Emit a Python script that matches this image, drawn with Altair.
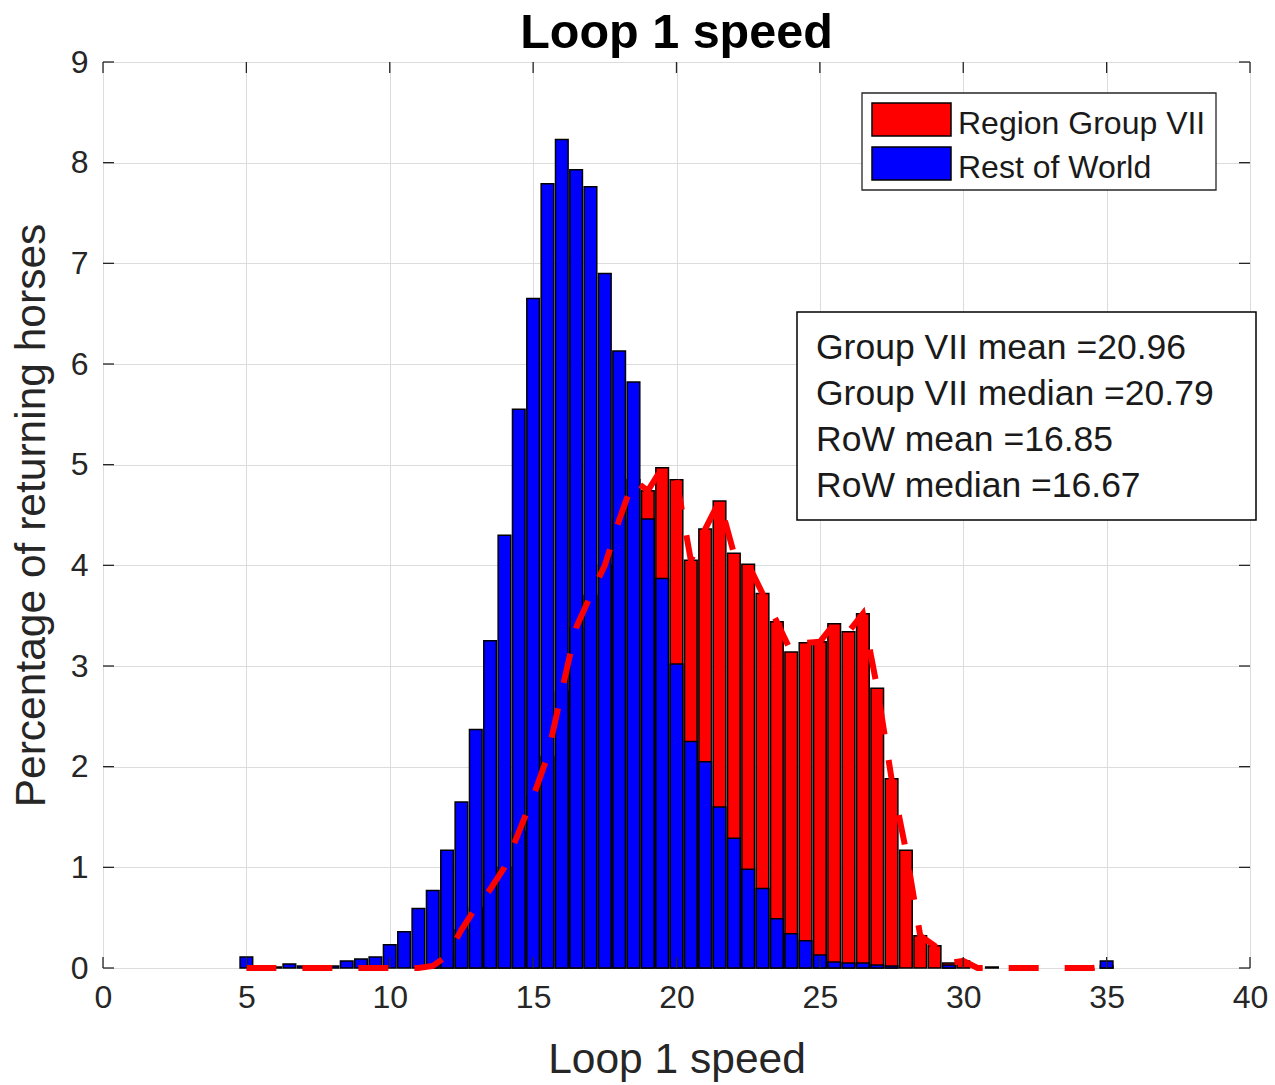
import altair as alt
import pandas as pd

# ---------------- data ----------------
bin_centers = [5.0, 5.5, 6.0, 6.5, 7.0, 7.5, 8.0, 8.5, 9.0, 9.5,
               10.0, 10.5, 11.0, 11.5, 12.0, 12.5, 13.0, 13.5, 14.0, 14.5,
               15.0, 15.5, 16.0, 16.5, 17.0, 17.5, 18.0, 18.5, 19.0, 19.5,
               20.0, 20.5, 21.0, 21.5, 22.0, 22.5, 23.0, 23.5, 24.0, 24.5,
               25.0, 25.5, 26.0, 26.5, 27.0, 27.5, 28.0, 28.5, 29.0, 29.5,
               30.0, 30.5, 31.0, 31.5, 32.0, 32.5, 33.0, 33.5, 34.0, 34.5,
               35.0]

rest_of_world = [0.11, 0.01, 0.01, 0.04, 0.02, 0.01, 0.02, 0.07, 0.09, 0.11,
                 0.23, 0.36, 0.59, 0.77, 1.17, 1.65, 2.37, 3.25, 4.30, 5.55,
                 6.65, 7.79, 8.23, 7.93, 7.76, 6.90, 6.13, 5.82, 4.46, 3.87,
                 3.02, 2.25, 2.05, 1.60, 1.29, 0.98, 0.79, 0.49, 0.34, 0.27,
                 0.13, 0.06, 0.05, 0.05, 0.03, 0.02, 0.0, 0.0, 0.0, 0.03,
                 0.0, 0.0, 0.01, 0.0, 0.0, 0.0, 0.0, 0.0, 0.0, 0.0,
                 0.07]

group_vii = [0.0, 0.0, 0.0, 0.0, 0.0, 0.0, 0.0, 0.0, 0.0, 0.0,
             0.0, 0.0, 0.0, 0.02, 0.12, 0.38, 0.60, 0.78, 1.00, 1.35,
             1.70, 2.10, 2.75, 3.38, 3.70, 4.00, 4.45, 4.85, 4.74, 4.97,
             4.85, 4.05, 4.36, 4.64, 4.12, 4.01, 3.72, 3.44, 3.14, 3.23,
             3.24, 3.42, 3.34, 3.52, 2.78, 1.88, 1.17, 0.32, 0.22, 0.05,
             0.07, 0.0, 0.0, 0.0, 0.0, 0.0, 0.0, 0.0, 0.0, 0.0,
             0.02]

series_names = ["Region Group VII", "Rest of World"]
series_colors = ["#ff0000", "#0000ff"]

stat_labels = ["Group VII mean", "Group VII median", "RoW mean", "RoW median"]
stat_values = [20.96, 20.79, 16.85, 16.67]

x_ticks = [0, 5, 10, 15, 20, 25, 30, 35, 40]
y_ticks = [0, 1, 2, 3, 4, 5, 6, 7, 8, 9]

title_text = "Loop 1 speed"
x_title = "Loop 1 speed"
y_title = "Percentage of returning horses"

# ---------------- layout constants ----------------
W, H = 1147, 906
FONT = "Liberation Sans"
HALF = 0.22  # half bar width in data units

df = pd.DataFrame({"c": bin_centers, "row": rest_of_world, "g7": group_vii})
df["x0"] = df["c"] - HALF
df["x1"] = df["c"] + HALF
red_df = df[df["g7"] > 0]
blue_df = df[df["row"] > 0]

xscale = alt.Scale(domain=[0, 40], nice=False, zero=False)
yscale = alt.Scale(domain=[0, 9], nice=False, zero=False)

x_axis = alt.Axis(values=x_ticks, format="d", grid=True, gridColor="#dcdcdc", gridWidth=1,
                  domain=False, ticks=False, tickSize=0, labelFontSize=32,
                  labelFont=FONT, labelColor="#262626", labelPadding=14,
                  title=x_title, titleFont=FONT, titleFontSize=42.5,
                  titleFontWeight="normal", titleColor="#262626", titlePadding=25,
                  labelFlush=False)
y_axis = alt.Axis(values=y_ticks, format="d", grid=True, gridColor="#dcdcdc", gridWidth=1,
                  domain=False, ticks=False, tickSize=0, labelFontSize=32,
                  labelFont=FONT, labelColor="#262626", labelPadding=15,
                  title=y_title, titleFont=FONT, titleFontSize=42.5,
                  titleFontWeight="normal", titleColor="#262626", titlePadding=17,
                  labelFlush=False)

red_bars = alt.Chart(red_df).mark_rect(
    fill=series_colors[0], stroke="black", strokeWidth=1.5
).encode(
    x=alt.X("x0:Q", scale=xscale, axis=x_axis),
    x2="x1:Q",
    y=alt.Y("g7:Q", scale=yscale, axis=y_axis),
    y2=alt.datum(0),
)

blue_bars = alt.Chart(blue_df).mark_rect(
    fill=series_colors[1], stroke="black", strokeWidth=1.5
).encode(
    x=alt.X("x0:Q", scale=xscale),
    x2="x1:Q",
    y=alt.Y("row:Q", scale=yscale),
    y2=alt.datum(0),
)

dash_line = alt.Chart(df).mark_line(
    color=series_colors[0], strokeWidth=6, strokeDash=[30, 26], strokeCap="butt"
).encode(
    x=alt.X("c:Q", scale=xscale),
    y=alt.Y("g7:Q", scale=yscale),
)

# inward tick marks on all four sides (MATLAB box style)
xt = pd.DataFrame({"t": x_ticks})
yt = pd.DataFrame({"t": y_ticks})
TICK = 11
tick_col = "#262626"
ticks_bottom = alt.Chart(xt).mark_rule(color=tick_col, strokeWidth=1.3).encode(
    x=alt.X("t:Q", scale=xscale), y=alt.value(H), y2=alt.value(H - TICK))
ticks_top = alt.Chart(xt).mark_rule(color=tick_col, strokeWidth=1.3).encode(
    x=alt.X("t:Q", scale=xscale), y=alt.value(0), y2=alt.value(TICK))
ticks_left = alt.Chart(yt).mark_rule(color=tick_col, strokeWidth=1.3).encode(
    y=alt.Y("t:Q", scale=yscale), x=alt.value(0), x2=alt.value(TICK))
ticks_right = alt.Chart(yt).mark_rule(color=tick_col, strokeWidth=1.3).encode(
    y=alt.Y("t:Q", scale=yscale), x=alt.value(W), x2=alt.value(W - TICK))

one = pd.DataFrame({"a": [0]})

# legend (box, swatches, labels)
LX0, LX1, LY0, LY1 = 759, 1113, 31, 128
legend_layers = [
    alt.Chart(one).mark_rect(fill="white", stroke="#262626", strokeWidth=1.3).encode(
        x=alt.value(LX0), x2=alt.value(LX1), y=alt.value(LY0), y2=alt.value(LY1))
]
for i, (name, col) in enumerate(zip(series_names, series_colors)):
    top = 41 + i * 44
    legend_layers.append(
        alt.Chart(one).mark_rect(fill=col, stroke="black", strokeWidth=1.5).encode(
            x=alt.value(769), x2=alt.value(848), y=alt.value(top), y2=alt.value(top + 33)))
    legend_layers.append(
        alt.Chart(pd.DataFrame({"label": [name]})).mark_text(
            align="left", baseline="middle", font=FONT, fontSize=32, color="#1a1a1a"
        ).encode(x=alt.value(855), y=alt.value(top + 21), text="label:N"))

# statistics text box
SX0, SX1, SY0, SY1 = 694, 1153, 250, 458
stats_df = pd.DataFrame({
    "line": [f"{lab} ={val:.2f}" for lab, val in zip(stat_labels, stat_values)],
})
stats_layers = [
    alt.Chart(one).mark_rect(fill="white", stroke="black", strokeWidth=1.5).encode(
        x=alt.value(SX0), x2=alt.value(SX1), y=alt.value(SY0), y2=alt.value(SY1))
]
for i, line in enumerate(stats_df["line"]):
    stats_layers.append(
        alt.Chart(pd.DataFrame({"line": [line]})).mark_text(
            align="left", baseline="middle", font=FONT, fontSize=35.5, color="#1a1a1a"
        ).encode(x=alt.value(713), y=alt.value(286 + i * 46), text="line:N"))

chart = alt.layer(
    red_bars, blue_bars, dash_line,
    ticks_bottom, ticks_top, ticks_left, ticks_right,
    *legend_layers, *stats_layers,
).properties(
    width=W, height=H,
    title=alt.TitleParams(title_text, font=FONT, fontSize=48.5, fontWeight="bold",
                          color="#000000", anchor="middle", offset=-12),
    padding={"left": 103, "top": 62, "right": 25, "bottom": 117},
    autosize=alt.AutoSizeParams(type="none"),
).configure_view(
    stroke="#262626", strokeWidth=1.3
).configure(
    background="white"
)

chart.save("out.html", embed_options={"renderer": "svg", "actions": False})
